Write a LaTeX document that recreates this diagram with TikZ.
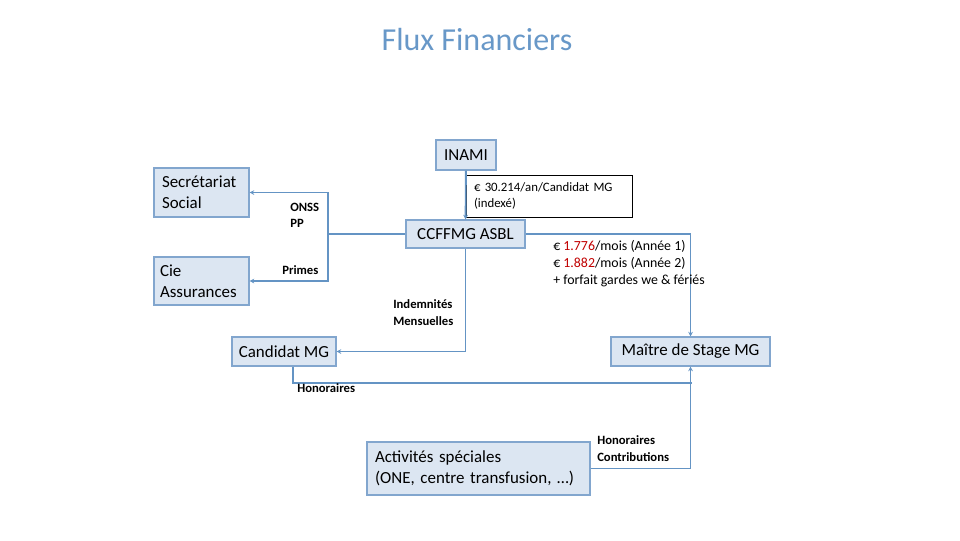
\documentclass[tikz,border=0pt]{standalone}
\usepackage{fontspec}
\setmainfont{Carlito}
\usepackage{xcolor}
\usepackage{tikz}
\usetikzlibrary{positioning, arrows.meta, calc}
\definecolor{boxfill}{RGB}{220, 230, 242}
\definecolor{boxline}{RGB}{130, 166, 206}
\definecolor{flowblue}{RGB}{100, 148, 196}
\definecolor{titleblue}{RGB}{104, 152, 200}
\definecolor{amount}{RGB}{192, 0, 0}
\newdimen\pxu \pxu=0.75pt
\tikzset{
  actor/.style={
    draw=boxline, fill=boxfill, line width=0.8pt,
    font=\fontsize{12.7}{15.75}\selectfont,
    inner sep=0pt,
  },
  note/.style={
    draw=black, fill=white, line width=0.7pt,
    font=\fontsize{9.6}{12.5}\selectfont,
    align=left, inner sep=0pt,
  },
  flow/.style={draw=flowblue, line width=1.4pt, -{Stealth[length=3.5pt, width=3.5pt]}},
  plain/.style={draw=flowblue, line width=1.4pt},
  lbl/.style={font=\fontsize{9.5}{12.2}\selectfont\bfseries, align=left, anchor=west, inner sep=0pt},
}
\newcommand{\amt}[1]{\textcolor{amount}{#1}}

\begin{document}
\begin{tikzpicture}[x=0.75pt, y=-0.75pt]
\useasboundingbox (0,0) rectangle (960,540);

\node[font=\fontsize{24}{28}\selectfont, text=titleblue] (title) at (477,40) {Flux Financiers};

% organismes
\node[actor, minimum width=60\pxu, minimum height=30\pxu] (inami) at (466,155) {INAMI};
\node[actor, minimum width=119\pxu, minimum height=28\pxu] (ccffmg) at (465.5,234) {CCFFMG ASBL};
\node[actor, minimum width=95\pxu, minimum height=49\pxu, text width=79\pxu, align=left] (secr) at (201.5,192.5) {Secrétariat\\Social};
\node[actor, minimum width=95\pxu, minimum height=48\pxu, text width=83\pxu, align=left] (cie) at (201.5,281) {Cie\\Assurances};
\node[actor, minimum width=104\pxu, minimum height=29\pxu] (cand) at (284,351.5) {Candidat MG};
\node[actor, minimum width=159\pxu, minimum height=29\pxu] (mds) at (690.5,351.5) {Maître de Stage MG};
\node[actor, minimum width=223\pxu, minimum height=53\pxu, text width=207\pxu, align=left] (act) at (478.5,468.5) {Activités spéciales\\(ONE, centre transfusion, \dots)};

\node[note, minimum width=166\pxu, minimum height=42\pxu, text width=150\pxu] (budget) at (549,196) {€ 30.214/an/Candidat MG\\(indexé)};

% flux
\coordinate (split) at (328,234);
\draw[flow] (inami) -- (ccffmg);
\draw[plain] (ccffmg.west) -- (split);
\draw[flow] (split) |- (secr.east);
\draw[flow] (split) |- (cie.east);
\draw[flow] (ccffmg.south) |- (cand.east);
\draw[flow] (ccffmg.east) -| (mds.north);
\draw[plain] ([xshift=9\pxu]cand.south) |- (692,383);
\draw[flow] (act.east) -| (mds.south);

% libelles
\node[lbl] (onss) at (290,215) {ONSS\\PP};
\node[lbl] (primes) at (282,270) {Primes};
\node[lbl] (indem) at (393,312.5) {Indemnités\\Mensuelles};
\node[lbl] (hon) at (297,388) {Honoraires};
\node[lbl] (honc) at (597,448.5) {Honoraires\\Contributions};
\node[lbl, font=\fontsize{10.4}{12.8}\selectfont] (bareme) at (553,264) {€ \amt{1.776}/mois (Année 1)\\€ \amt{1.882}/mois (Année 2)\\+ forfait gardes we \& fériés};

\end{tikzpicture}
\end{document}
